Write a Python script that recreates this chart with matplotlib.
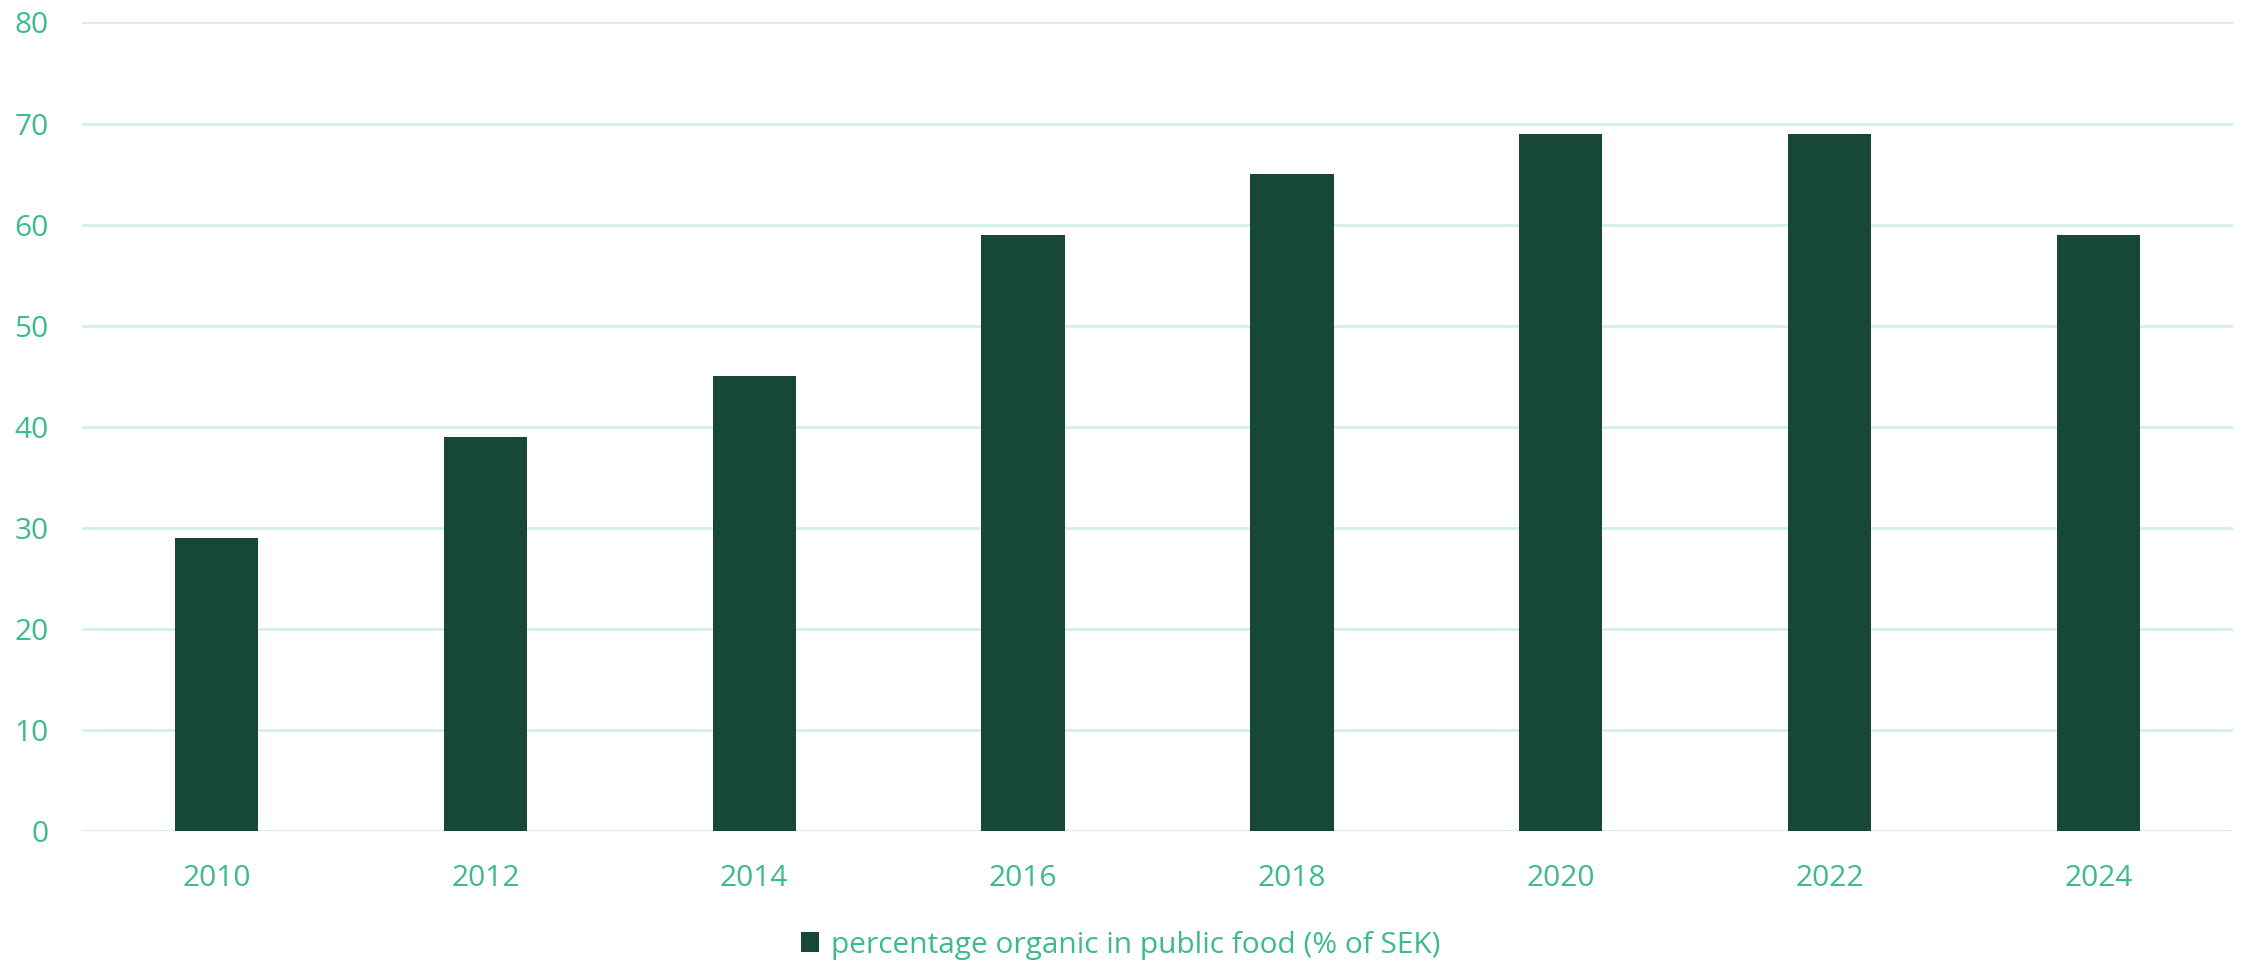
import matplotlib
matplotlib.use("Agg")
import matplotlib.pyplot as plt

years = ["2010", "2012", "2014", "2016", "2018", "2020", "2022", "2024"]
values = [29, 39, 45, 59, 65, 69, 69, 59]
series_name = "percentage organic in public food (% of SEK)"

bar_color = "#174735"
text_color = "#3DBB8A"
grid_color = "#D3F0E6"

plt.rcParams['font.family'] = ['Open Sans', 'DejaVu Sans']

W, H = 2241, 963
fig = plt.figure(figsize=(W / 100, H / 100), dpi=100)
ax = fig.add_axes([82 / W, 132 / H, (2233 - 82) / W, (831 - 22.5) / H])

x = range(len(years))
ax.bar(x, values, width=0.31, color=bar_color, label=series_name, zorder=3)

ax.set_xlim(-0.5, len(years) - 0.5)
ax.set_ylim(0, 80)
ax.set_yticks(range(0, 81, 10))
ax.set_xticks(list(x))
ax.set_xticklabels(years)

ax.grid(axis='y', color=grid_color, linewidth=2, zorder=0)
for s in ax.spines.values():
    s.set_visible(False)
ax.tick_params(axis='both', length=0, labelsize=21.5, colors=text_color)
ax.tick_params(axis='y', pad=24)
ax.tick_params(axis='x', pad=24)

leg = fig.legend(loc='center', bbox_to_anchor=(0.5, 1 - 945 / H), frameon=False,
                 fontsize=21.5, handlelength=0.62, handleheight=0.62, handletextpad=0.4)
for t in leg.get_texts():
    t.set_color(text_color)

fig.savefig("out.png", dpi=100)
